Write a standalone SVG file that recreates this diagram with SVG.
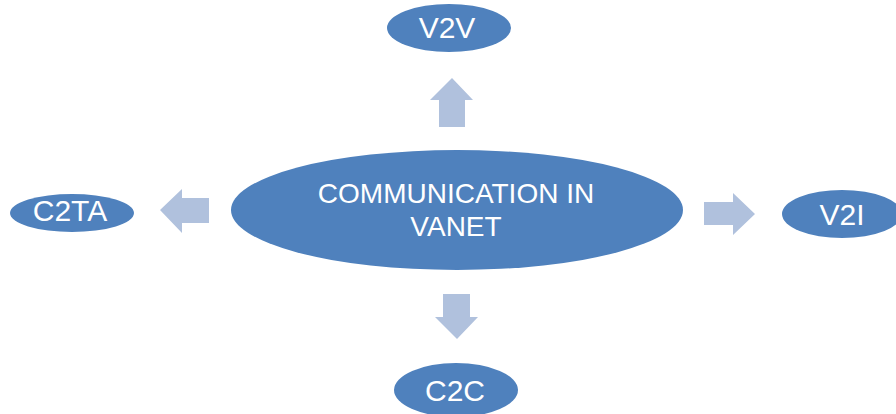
<svg xmlns="http://www.w3.org/2000/svg" width="896" height="414" viewBox="0 0 896 414">
<style>
.node{fill:#4F81BD;}
.arrow{fill:#B0C1DD;}
.lbl{font-family:"Liberation Sans",Arial,sans-serif;fill:#FFFFFF;text-anchor:middle;font-size:30px;}
.big{font-size:28px;}
</style>
<rect width="896" height="414" fill="#FFFFFF"/>
<g id="connectors">
<polygon class="arrow" points="452,78 473,100 465,100 465,127 439,127 439,100 430,100"/>
<polygon class="arrow" points="160,210 182,189 182,198 209,198 209,223 182,223 182,233"/>
<polygon class="arrow" points="755,214 733,193 733,202 704,202 704,225 733,225 733,235"/>
<polygon class="arrow" points="457,339 478,317 470,317 470,294 443,294 443,317 435,317"/>
</g>
<g id="center">
<ellipse class="node" cx="457" cy="210" rx="226" ry="60"/>
<text class="lbl big" x="456" y="203">COMMUNICATION IN</text>
<text class="lbl big" x="456" y="236">VANET</text>
</g>
<g id="v2v">
<ellipse class="node" cx="449" cy="28" rx="62" ry="24"/>
<text class="lbl" x="447" y="38" font-size="31">V2V</text>
</g>
<g id="c2ta">
<ellipse class="node" cx="72" cy="213" rx="62" ry="19"/>
<text class="lbl" x="70" y="221">C2TA</text>
</g>
<g id="v2i">
<ellipse class="node" cx="842" cy="214" rx="60" ry="24"/>
<text class="lbl" x="842" y="225">V2I</text>
</g>
<g id="c2c">
<ellipse class="node" cx="456" cy="390" rx="62" ry="27"/>
<text class="lbl" x="455" y="401">C2C</text>
</g>
</svg>
